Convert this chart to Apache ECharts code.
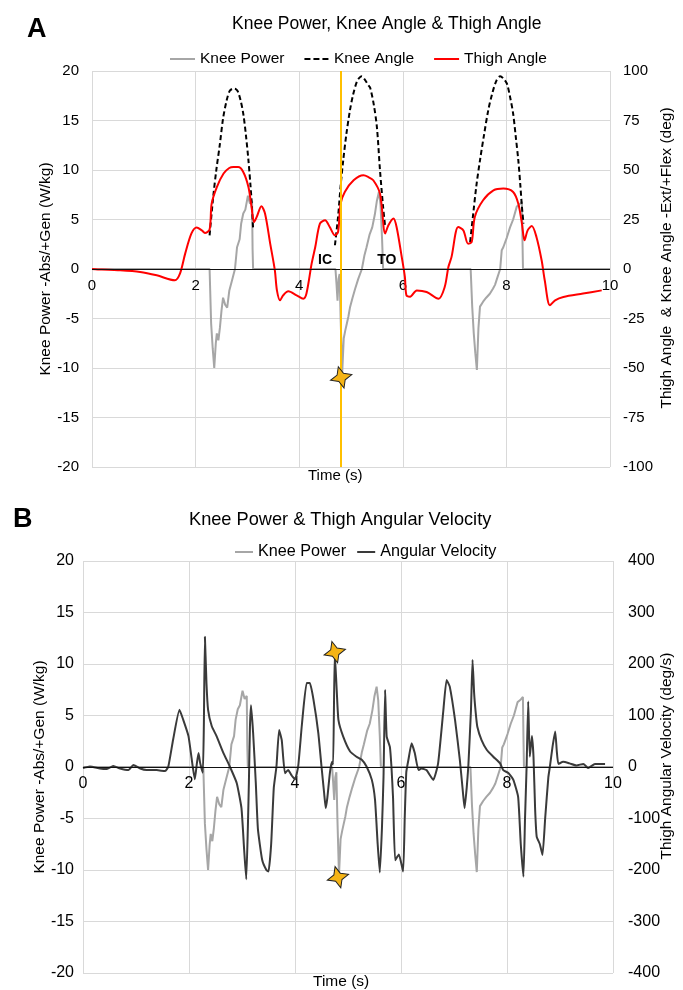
<!DOCTYPE html>
<html>
<head>
<meta charset="utf-8">
<script src="https://cdn.jsdelivr.net/npm/echarts@6/dist/echarts.min.js"></script>
<style>
  html, body { margin: 0; padding: 0; background: #fff; }
  #main { width: 683px; height: 990px; }
</style>
</head>
<body>
<div id="main"></div>
<script>
// knee power (W/kg), used in both panels
var powerT = [0, 2.27, 2.30, 2.33, 2.36, 2.39, 2.41, 2.44, 2.47, 2.50, 2.53, 2.57, 2.61, 2.65, 2.70, 2.76, 2.80, 2.85, 2.88, 2.92, 2.96, 3.01, 3.05, 3.09, 3.10, 3.11,
  4.70, 4.72, 4.74, 4.76, 4.78, 4.80, 4.83, 4.86, 4.89, 4.92, 4.95, 4.98, 5.03, 5.08, 5.14, 5.21, 5.26, 5.30, 5.36, 5.41, 5.46, 5.50, 5.54, 5.57, 5.60, 5.62,
  7.31, 7.34, 7.37, 7.40, 7.43, 7.46, 7.49, 7.55, 7.61, 7.68, 7.74, 7.78, 7.83, 7.88, 7.91, 7.94, 8.01, 8.07, 8.13, 8.20, 8.25, 8.30, 8.31, 8.32, 10];
var powerW = [0, 0, -5.5, -8.0, -10.0, -7.5, -6.5, -7.2, -5.9, -4.2, -2.9, -3.6, -3.9, -2.2, -1.2, 0, 2.2, 3.0, 4.6, 5.6, 6.0, 7.4, 6.6, 6.9, 2, 0,
  0, -1.5, -3.2, -1.0, -0.5, -5, -10.5, -7.0, -6.2, -5.5, -4.8, -3.9, -2.9, -2.0, -1.0, 0, 1.4, 2.2, 3.5, 4.2, 5.5, 6.9, 7.8, 6.5, 3, 0,
  0, -3.8, -6.5, -8.5, -10.2, -6.0, -3.8, -3.3, -2.9, -2.5, -2.0, -1.6, -0.8, 0, 1.9, 2.2, 3.2, 4.2, 5.0, 6.3, 6.5, 6.8, 3, 0, 0];

// knee angle (deg), three swing phases
var kneeT = [2.27, 2.34, 2.40, 2.47, 2.53, 2.60, 2.66, 2.73, 2.78, 2.82, 2.87, 2.92, 2.97, 3.02, 3.06, 3.08, 3.11, 3.2,
  4.69, 4.75, 4.80, 4.85, 4.91, 4.98, 5.04, 5.11, 5.16, 5.21, 5.27, 5.33, 5.37, 5.44, 5.50, 5.56, 5.62, 5.66, 5.8,
  7.30, 7.36, 7.42, 7.49, 7.57, 7.65, 7.73, 7.81, 7.88, 7.95, 8.01, 8.07, 8.13, 8.18, 8.23, 8.27, 8.30, 8.33];
var kneeDeg = [17, 36.4, 50, 63.3, 76, 85.2, 90, 91.1, 90.8, 89.4, 85, 78.5, 68, 54.9, 42, 34.7, 20.4, null,
  12, 26.3, 42, 54.9, 68, 80.2, 88, 94.4, 96.5, 97.3, 95.5, 93, 91.5, 83, 71.7, 49.8, 31.3, 21.2, null,
  13.6, 28, 42, 54.9, 68, 80.2, 89, 95.3, 97.3, 96, 93.6, 87, 78.5, 67, 54.9, 42, 31.3, 22.9];

// thigh angle (deg)
var thighT = [0, 0.19, 0.5, 0.93, 1.25, 1.60, 1.70, 1.80, 1.92, 2.02, 2.12, 2.18, 2.27, 2.31, 2.41, 2.54, 2.65, 2.73, 2.82, 2.92, 3.02, 3.08, 3.13, 3.18, 3.27, 3.34, 3.44, 3.53,
  3.57, 3.63, 3.69, 3.79, 3.95, 4.08, 4.14, 4.24, 4.31, 4.40, 4.50, 4.59, 4.69, 4.75, 4.80, 4.88, 5.05, 5.24, 5.33, 5.43, 5.56, 5.66, 5.72, 5.82, 5.88, 5.98, 6.04,
  6.07, 6.14, 6.27, 6.46, 6.69, 6.81, 6.88, 6.94, 7.07, 7.17, 7.26, 7.33, 7.39, 7.55, 7.75, 7.94, 8.13, 8.23, 8.30, 8.35, 8.41, 8.49, 8.58, 8.68,
  8.74, 8.84, 8.94, 9.10, 9.48, 9.84];
var thighDeg = [0, -0.3, -0.6, -1.5, -3.2, -5.7, -2.2, 7.9, 18, 21, 19.5, 18.2, 19.9, 33, 41.4, 48.2, 51, 51.5, 51.5, 49, 41.4, 31.3, 23.7, 26.3, 31.7, 28, 12.8, -0.7,
  -10.8, -15.8, -13.3, -11.3, -13.3, -15, -12.4, 2.7, 11.1, 22.9, 24.6, 21.2, 17, 18.7, 33, 38.9, 44.8, 47.3, 46.5, 44.8, 38, 17.9, 22, 25.5, 21.2, 6, -4,
  -13.3, -14, -10.8, -11.6, -15, -9, 1, 6, 21.2, 19.5, 12.8, 13.6, 26.3, 34.7, 39.7, 40.6, 38.9, 33, 22.9, 14.5, 19.5, 21.7, 16.2, 4.4,
  -5.7, -18.3, -15.8, -14.1, -12.4, -10.8];

// thigh angular velocity (deg/s)
var velT = [0, 0.13, 0.32, 0.45, 0.57, 0.70, 0.86, 0.95, 1.08, 1.20, 1.39, 1.55, 1.61, 1.70, 1.82, 1.89, 1.99, 2.07, 2.11, 2.15, 2.18, 2.21, 2.26, 2.28, 2.30, 2.33, 2.36, 2.43, 2.52, 2.65, 2.77, 2.90, 2.99,
  3.04, 3.08, 3.11, 3.13, 3.15, 3.17, 3.21, 3.26, 3.30, 3.38, 3.46, 3.50, 3.55, 3.60, 3.65, 3.70, 3.75, 3.81, 3.87, 3.94, 4.00, 4.06, 4.13, 4.22, 4.28, 4.35, 4.44, 4.50,
  4.55, 4.58, 4.61, 4.66, 4.70, 4.72, 4.75, 4.79, 4.82, 4.91, 5.04, 5.16, 5.26, 5.35, 5.45, 5.51, 5.56, 5.60, 5.64, 5.67, 5.70, 5.73, 5.79, 5.82, 5.85, 5.89, 5.96, 6.04,
  6.07, 6.10, 6.14, 6.20, 6.26, 6.33, 6.39, 6.48, 6.61, 6.70, 6.80, 6.86, 6.92, 7.02, 7.11, 7.17, 7.20, 7.24, 7.27, 7.32, 7.35, 7.38, 7.41, 7.44, 7.52, 7.62, 7.74, 7.87,
  7.93, 8.03, 8.12, 8.21, 8.26, 8.31, 8.34, 8.37, 8.40, 8.43, 8.47, 8.50, 8.53, 8.56, 8.62, 8.67, 8.72, 8.78, 8.81, 8.86, 8.91, 8.94, 8.97, 9.06, 9.18, 9.31, 9.44, 9.53, 9.66, 9.85];
var velDeg = [-2, 1, -3, -4, 2, -3, -6, 4, -3, -6, -6, -8, 1, 53, 111, 92, 60, 1, -24, 8, 27, 8, -11, 79, 253, 162, 111, 79, 60, 27, 1, -31, -80,
  -160, -218, -120, -30, 78, 120, 66, -30, -120, -180, -200, -203, -150, -40, 1, 72, 52, -12, -6, -17, -24, 1, 82, 163, 163, 130, 66, 1,
  -51, -80, -60, -10, 10, 5, 223, 143, 91, 59, 30, 20, 14, 1, -25, -64, -150, -205, -120, -20, 150, 59, 39, 0, -60, -181, -170, -203,
  -100, -10, 14, 46, 27, -6, -3, -6, -25, 7, 111, 169, 156, 91, 14, -51, -80, -40, 1, 110, 208, 143, 105, 78, 52, 33, 20, 7,
  -6, -12, -25, -58, -150, -213, -100, 1, 127, 20, 60, 20, -80, -135, -150, -171, -100, -20, 1, 40, 69, 30, 6, 10, 7, 3, 6, -2, 6, 6];

// event markers: initial contact time, stars, IC / TO labels
var icTime = 4.81;
var starA = [4.81, -10.95];
var starBPower = [4.81, -10.7];
var starBVel = [4.75, 223];
var icLabel = [4.50, 0.9];
var toLabel = [5.69, 0.9];

function pairs(ts, vs) {
    return ts.map(function (t, i) { return [t, vs[i]]; });
}

var starPath = 'path://M0,-10 L3,-3 L10,0 L3,3 L0,10 L-3,3 L-10,0 L-3,-3 Z';
var starStyle = { color: '#F5B416', borderColor: '#222', borderWidth: 1 };
var dashIcon = 'path://M0,0h6v2h-6z M9,0h6v2h-6z M18,0h6v2h-6z';
var font = 'Liberation Sans, Arial, sans-serif';
var gridColor = '#d9d9d9';
var zeroLine = { yAxis: 0, lineStyle: { color: '#111', width: 1, type: 'solid' } };

//x轴：刻度放在零线下方（offset 为网格高度的一半）
function xAxis(gridIndex, offset, fontSize) {
    return {
        gridIndex: gridIndex, type: 'value', min: 0, max: 10, interval: 2,
        position: 'bottom', offset: offset,
        axisLine: { show: false, onZero: false },
        axisTick: { show: false },
        axisLabel: { show: true, color: '#000', fontSize: fontSize, margin: 9, fontFamily: font },
        splitLine: { show: true, lineStyle: { color: gridColor, width: 1 } }
    };
}

//y轴：名称用 padding 稍微上移
function yAxis(gridIndex, pos, min, max, interval, name, gap, split, fontSize, margin, shift) {
    return {
        gridIndex: gridIndex, type: 'value', position: pos,
        min: min, max: max, interval: interval,
        name: name, nameLocation: 'middle', nameGap: gap, nameRotate: 90,
        nameMoveOverlap: false,
        nameTextStyle: { color: '#000', fontSize: 15.5, fontFamily: font, padding: [0, 0, 0, shift] },
        axisLine: { show: false }, axisTick: { show: false },
        axisLabel: { color: '#000', fontSize: fontSize, margin: margin, fontFamily: font },
        splitLine: { show: split, lineStyle: { color: gridColor, width: 1 } }
    };
}

var chart = echarts.init(document.getElementById('main'));

var option = {
    animation: false,
    backgroundColor: '#fff',
    textStyle: { fontFamily: font },
    title: [
        { text: 'A', left: 22, top: 11, textStyle: { fontSize: 27, fontWeight: 'bold', color: '#000', fontFamily: font } },
        { text: 'Knee Power, Knee Angle & Thigh Angle', left: 227, top: 10, textStyle: { fontSize: 17.5, fontWeight: 'normal', color: '#000', fontFamily: font } },
        { text: 'Time (s)', left: 303, top: 463, textStyle: { fontSize: 15, fontWeight: 'normal', color: '#000', fontFamily: font } },
        { text: 'B', left: 8, top: 501, textStyle: { fontSize: 27, fontWeight: 'bold', color: '#000', fontFamily: font } },
        { text: 'Knee Power & Thigh Angular Velocity', left: 184, top: 506, textStyle: { fontSize: 18.2, fontWeight: 'normal', color: '#000', fontFamily: font } },
        { text: 'Time (s)', left: 308, top: 969, textStyle: { fontSize: 15.5, fontWeight: 'normal', color: '#000', fontFamily: font } }
    ],
    legend: [
        {
            left: 165, top: 46, itemWidth: 25, itemHeight: 2, itemGap: 20,
            textStyle: { fontSize: 15.5, color: '#000', fontFamily: font },
            data: [
                { name: 'Knee Power', icon: 'rect' },
                { name: 'Knee Angle', icon: dashIcon },
                { name: 'Thigh Angle', icon: 'rect' }
            ]
        },
        {
            left: 230, top: 539, itemWidth: 18, itemHeight: 2, itemGap: 11,
            textStyle: { fontSize: 16.2, color: '#000', fontFamily: font },
            data: [
                { name: 'Knee Power', icon: 'rect' },
                { name: 'Angular Velocity', icon: 'rect' }
            ]
        }
    ],
    grid: [
        { left: 92, top: 71, width: 518, height: 396 },
        { left: 83, top: 561, width: 530, height: 412 }
    ],
    xAxis: [xAxis(0, -198, 15), xAxis(1, -206, 16)],
    yAxis: [
        yAxis(0, 'left', -20, 20, 5, 'Knee Power -Abs/+Gen (W/kg)', 38, true, 15, 13, 0),
        yAxis(0, 'right', -100, 100, 25, 'Thigh Angle  & Knee Angle -Ext/+Flex (deg)', 49, false, 15, 13, 22),
        yAxis(1, 'left', -20, 20, 5, 'Knee Power -Abs/+Gen (W/kg)', 35, true, 16, 9, 0),
        yAxis(1, 'right', -400, 400, 100, 'Thigh Angular Velocity (deg/s)', 46, false, 16, 15, 22)
    ],
    series: [
        {
            name: 'Knee Power', type: 'line', xAxisIndex: 0, yAxisIndex: 0,
            data: pairs(powerT, powerW), symbol: 'none', showSymbol: false,
            lineStyle: { color: '#a6a6a6', width: 2 }, itemStyle: { color: '#a6a6a6' },
            markLine: {
                silent: true, symbol: 'none', label: { show: false },
                lineStyle: { color: '#FFC000', width: 2, type: 'solid' },
                data: [zeroLine, { xAxis: icTime }]
            },
            markPoint: {
                z: 6,
                data: [
                    { coord: starA, symbol: starPath, symbolSize: 22, symbolRotate: 15, itemStyle: starStyle, label: { show: false } },
                    { coord: icLabel, symbol: 'circle', symbolSize: 0, label: { show: true, formatter: 'IC', color: '#000', fontSize: 14, fontWeight: 'bold' } },
                    { coord: toLabel, symbol: 'circle', symbolSize: 0, label: { show: true, formatter: 'TO', color: '#000', fontSize: 14, fontWeight: 'bold' } }
                ]
            }
        },
        {
            name: 'Knee Angle', type: 'line', xAxisIndex: 0, yAxisIndex: 1,
            data: pairs(kneeT, kneeDeg), symbol: 'none', showSymbol: false, smooth: 0.3, connectNulls: false,
            lineStyle: { color: '#000', width: 2, type: [5, 3] }, itemStyle: { color: '#000' }
        },
        {
            name: 'Thigh Angle', type: 'line', xAxisIndex: 0, yAxisIndex: 1,
            data: pairs(thighT, thighDeg), symbol: 'none', showSymbol: false, smooth: 0.3,
            lineStyle: { color: '#ff0000', width: 2 }, itemStyle: { color: '#ff0000' }
        },
        {
            name: 'Knee Power', type: 'line', xAxisIndex: 1, yAxisIndex: 2,
            data: pairs(powerT, powerW), symbol: 'none', showSymbol: false,
            lineStyle: { color: '#a6a6a6', width: 2 }, itemStyle: { color: '#a6a6a6' },
            markLine: {
                silent: true, symbol: 'none', label: { show: false },
                data: [zeroLine]
            },
            markPoint: {
                z: 6,
                data: [
                    { coord: starBPower, symbol: starPath, symbolSize: 22, symbolRotate: 15, itemStyle: starStyle, label: { show: false } }
                ]
            }
        },
        {
            name: 'Angular Velocity', type: 'line', xAxisIndex: 1, yAxisIndex: 3,
            data: pairs(velT, velDeg), symbol: 'none', showSymbol: false, smooth: 0.15,
            lineStyle: { color: '#3a3a3a', width: 2 }, itemStyle: { color: '#3a3a3a' },
            markPoint: {
                z: 6,
                data: [
                    { coord: starBVel, symbol: starPath, symbolSize: 22, symbolRotate: 15, itemStyle: starStyle, label: { show: false } }
                ]
            }
        }
    ]
};

chart.setOption(option);
</script>
</body>
</html>
